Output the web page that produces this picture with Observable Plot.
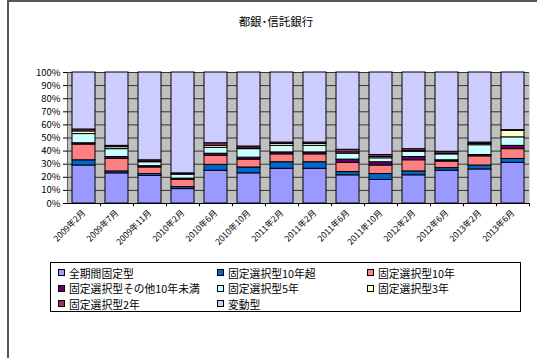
<!DOCTYPE html>
<html>
<head>
<meta charset="utf-8">
<script src="https://cdn.jsdelivr.net/npm/d3@7"></script>
<script src="https://cdn.jsdelivr.net/npm/@observablehq/plot@0.6"></script>
<style>
  html, body { margin: 0; padding: 0; background: #fff; overflow: hidden; }
  body { width: 537px; height: 358px; position: relative; font-family: "Noto Sans CJK JP", sans-serif; }
  #frame { position: absolute; left: 7px; top: 0px; width: 620px; height: 420px; border: 2px solid #555; box-sizing: border-box; }
  #title { position: absolute; left: 176px; top: 13px; width: 200px; text-align: center; font-size: 11.5px; color: #000; }
  #chart { position: absolute; left: 0; top: 0; }
  #chart g[aria-label^="x-axis"] text { font-size: 8.5px; }
  #legend { position: absolute; left: 50px; top: 262px; width: 471px; height: 50px; border: 1px solid #000; box-sizing: border-box;
            display: grid; grid-template-columns: 159px 150px auto; grid-auto-rows: 15.5px; padding: 2px 0 0 7px; font-size: 10.8px; color: #000; }
  .item { display: flex; align-items: center; white-space: nowrap; }
  .sw { width: 5px; height: 5px; border: 1px solid #000; margin-right: 4px; flex: none; }
</style>
</head>
<body>
<div id="frame"></div>
<div id="chart"></div>
<div id="title">都銀･信託銀行</div>
<div id="legend"></div>
<script>
const dates = ["2009年2月","2009年7月","2009年11月","2010年2月","2010年6月","2010年10月","2011年2月","2011年2月","2011年6月","2011年10月","2012年2月","2012年6月","2013年2月","2013年6月"];
const seriesNames = ["全期間固定型","固定選択型10年超","固定選択型10年","固定選択型その他10年未満","固定選択型5年","固定選択型3年","固定選択型2年","変動型"];
const seriesColors = ["#9999FF","#0066CC","#FF8080","#660066","#CCFFFF","#FFFFCC","#993366","#CCCCFF"];
const zenkikan = [29, 23, 21, 11, 25, 23, 26.5, 26.5, 21.5, 18, 21.5, 25, 26, 31];
const over10   = [4, 1.5, 1.5, 1.5, 4.5, 4.5, 5, 5, 2.5, 4.5, 3, 2, 3, 3];
const y10      = [12, 9.5, 5, 5.5, 7, 6, 6, 6, 7, 6.5, 8.5, 5, 7, 7.5];
const otherU10 = [1, 1.5, 1, 1, 1.5, 1.5, 1.5, 1.5, 2.5, 2.5, 2.5, 1, 1, 2.5];
const y5       = [7, 6, 3, 3, 4.5, 6.5, 5, 5, 4.5, 3, 4, 4.5, 7.5, 6.5];
const y3       = [2, 1.5, 0.5, 0.5, 1.5, 0.5, 1.5, 1.5, 1, 1, 0.5, 0.5, 1, 5];
const y2       = [1.5, 1, 1, 0.5, 2, 1.5, 1, 1, 2, 1.5, 1.5, 1.5, 1, 0.5];
const hendo    = [43.5, 56, 67, 77, 54, 56.5, 53.5, 53.5, 59, 63, 58.5, 60.5, 53.5, 44];
const yTicks = [0, 0.1, 0.2, 0.3, 0.4, 0.5, 0.6, 0.7, 0.8, 0.9, 1];

const seriesValues = [zenkikan, over10, y10, otherU10, y5, y3, y2, hendo];
const idx = dates.map((d, i) => i);
const table = idx.flatMap(i => seriesNames.map((s, k) => ({i, s, v: seriesValues[k][i]})));

const chart = Plot.plot({
  width: 537,
  height: 260,
  marginTop: 72,
  marginBottom: 57,
  marginLeft: 67,
  marginRight: 8,
  style: {fontFamily: "'Noto Sans CJK JP', sans-serif", fontSize: "9.5px", color: "#000", background: "transparent", overflow: "visible"},
  x: {domain: idx, paddingInner: 0.29, paddingOuter: 0.145, tickFormat: i => dates[i], tickRotate: -45, tickSize: 0, tickPadding: 8, label: null},
  y: {domain: [0, 1], ticks: yTicks, tickFormat: d => Math.round(d * 100) + "%", tickSize: 4, tickPadding: 3, label: null, line: true},
  color: {domain: seriesNames, range: seriesColors},
  marks: [
    Plot.frame({fill: "#C0C0C0", stroke: null}),
    Plot.ruleY(yTicks, {stroke: "#333", strokeWidth: 1}),
    Plot.barY(table, {x: "i", y: "v", fill: "s", order: seriesNames, offset: "normalize", stroke: "#000", strokeWidth: 1}),
    Plot.ruleY([0], {stroke: "#000"}),
    Plot.ruleX(idx, {x: d => d, dx: 16.5, y1: 0, y2: -0.025, stroke: "#000"})
  ]
});
document.getElementById("chart").appendChild(chart);

const legend = document.getElementById("legend");
seriesNames.forEach((s, k) => {
  const it = document.createElement("div");
  it.className = "item";
  const sw = document.createElement("span");
  sw.className = "sw";
  sw.style.background = seriesColors[k];
  const tx = document.createElement("span");
  tx.textContent = s;
  it.appendChild(sw);
  it.appendChild(tx);
  legend.appendChild(it);
});
</script>
</body>
</html>
